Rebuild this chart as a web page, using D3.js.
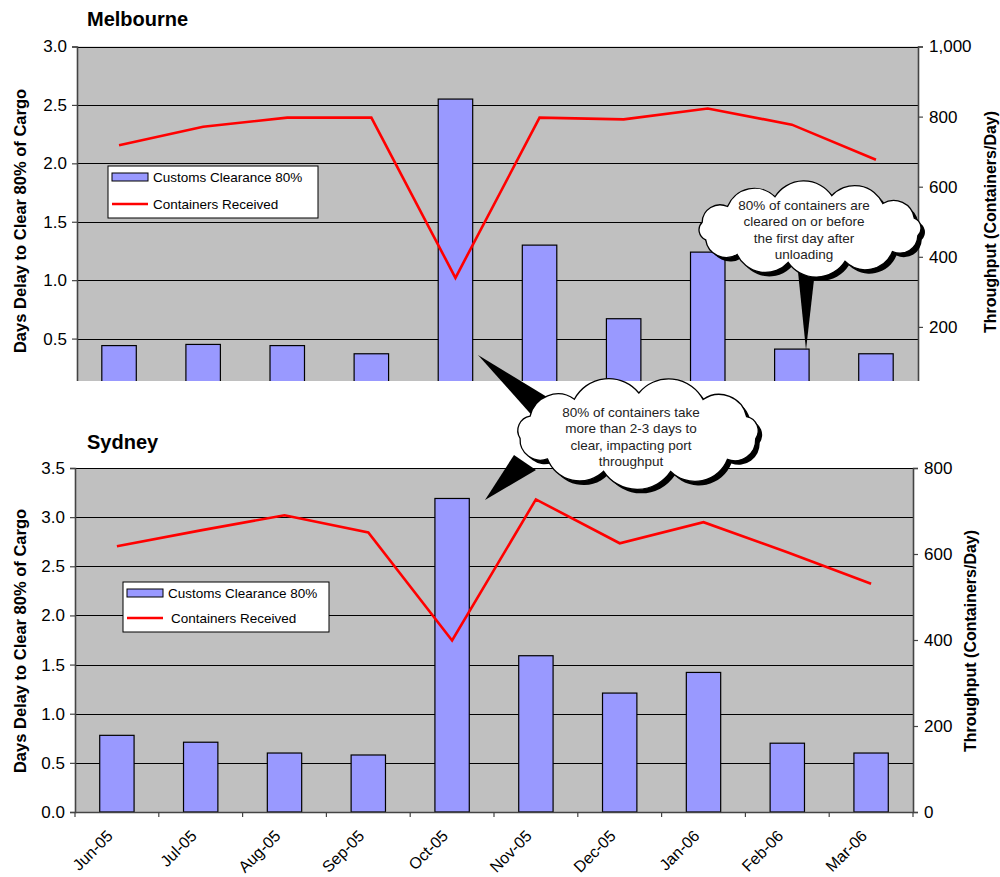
<!DOCTYPE html>
<html><head><meta charset="utf-8">
<script src="https://cdn.jsdelivr.net/npm/d3@7"></script>
<style>
body{margin:0;background:#fff;}
svg{display:block;font-family:"Liberation Sans",Arial,sans-serif;}
</style></head>
<body>
<svg id="chart" width="1000" height="877"></svg>
<script>
// ---------- DATA ----------
const months = ["Jun-05","Jul-05","Aug-05","Sep-05","Oct-05","Nov-05","Dec-05","Jan-06","Feb-06","Mar-06"];
const melbClearance = [0.44,0.45,0.44,0.37,2.55,1.30,0.67,1.24,0.41,0.37];
const melbContainers = [718,771,797,797,340,797,792,823,777,677];
const sydClearance = [0.78,0.71,0.60,0.58,3.19,1.59,1.21,1.42,0.70,0.60];
const sydContainers = [618,655,690,650,399,727,625,674,604,531];
const melbLeftTicks = [0.5,1.0,1.5,2.0,2.5,3.0];
const melbRightTicks = [200,400,600,800,1000];
const sydLeftTicks = [0,0.5,1.0,1.5,2.0,2.5,3.0,3.5];
const sydRightTicks = [0,200,400,600,800];
const seriesNames = ["Customs Clearance 80%","Containers Received"];
const leftTitle = "Days Delay to Clear 80% of Cargo";
const rightTitle = "Throughput (Containers/Day)";
const note1 = ["80% of containers are","cleared on or before","the first day after","unloading"];
const note2 = ["80% of containers take","more than 2-3 days to","clear, impacting port","throughput"];

const svg = d3.select("#chart");
const defs = svg.append("defs");
defs.append("clipPath").attr("id","topclip").append("rect").attr("x",0).attr("y",0).attr("width",1000).attr("height",381);

function drawPanel(o){
  const g = svg.append("g");
  const inner = o.clip ? g.append("g").attr("clip-path","url(#topclip)") : g.append("g");
  const x = d3.scaleBand().domain(months).range([o.left,o.right]).padding(0);
  const yL = d3.scaleLinear().domain(o.leftDomain).range([o.bottom,o.top]);
  const yR = d3.scaleLinear().domain(o.rightDomain).range([o.bottom,o.top]);
  inner.append("rect").attr("x",o.left).attr("y",o.top).attr("width",o.right-o.left).attr("height",o.bottom-o.top).attr("fill","#c0c0c0");
  inner.selectAll(".grid").data(o.leftTicks.filter(d=>d>0)).join("line")
    .attr("x1",o.left).attr("x2",o.right)
    .attr("y1",d=>Math.round(yL(d))+0.5).attr("y2",d=>Math.round(yL(d))+0.5)
    .attr("stroke","#000").attr("stroke-width",1);
  const bw = x.bandwidth()*0.41;
  inner.selectAll(".bar").data(o.bars).join("rect")
    .attr("x",(d,i)=>x(months[i])+x.bandwidth()/2-bw/2)
    .attr("y",d=>yL(d)).attr("width",bw).attr("height",d=>yL(0)-yL(d))
    .attr("fill","#9999ff").attr("stroke","#000").attr("stroke-width",1.2);
  const line = d3.line().x((d,i)=>x(months[i])+x.bandwidth()/2).y(d=>yR(d));
  inner.append("path").datum(o.line).attr("d",line).attr("fill","none").attr("stroke","#ff0000").attr("stroke-width",2.6).attr("stroke-linejoin","miter");
  const axL = d3.axisLeft(yL).tickValues(o.leftTicks).tickFormat(d3.format(".1f")).tickSize(5).tickPadding(5);
  const axR = d3.axisRight(yR).tickValues(o.rightTicks).tickFormat(d3.format(",")).tickSize(5).tickPadding(6);
  const gl = inner.append("g").attr("transform",`translate(${o.left},0)`).call(axL);
  const gr = inner.append("g").attr("transform",`translate(${o.right},0)`).call(axR);
  [gl,gr].forEach(a=>{
    a.select(".domain").attr("stroke","#444").attr("stroke-width",1.6);
    a.selectAll(".tick line").attr("stroke","#444").attr("stroke-width",1.2);
    a.selectAll("text").attr("font-size",17).attr("fill","#000").attr("font-family","Liberation Sans, Arial, sans-serif");
  });
  if(o.xAxis){
    const axB = d3.axisBottom(x).tickSize(0).tickFormat("");
    const gb = inner.append("g").attr("transform",`translate(0,${o.bottom})`).call(axB);
    gb.select(".domain").attr("stroke","#444").attr("stroke-width",1.6);
    inner.selectAll(".xt").data(d3.range(months.length+1)).join("line")
      .attr("x1",i=>o.left+i*x.bandwidth()).attr("x2",i=>o.left+i*x.bandwidth())
      .attr("y1",o.bottom).attr("y2",o.bottom+5).attr("stroke","#444").attr("stroke-width",1.2);
    inner.selectAll(".xl").data(months).join("text")
      .attr("transform",d=>`translate(${x(d)+x.bandwidth()/2-3},${o.bottom+25}) rotate(-45)`)
      .attr("text-anchor","end").attr("font-size",16).text(d=>d);
  }
  g.append("text").attr("x",o.titleX).attr("y",o.titleY).attr("font-weight","bold").attr("font-size",20).text(o.title);
  g.append("text").attr("transform",`translate(${o.ltX},${o.ltY}) rotate(-90)`).attr("text-anchor","middle")
    .attr("font-weight","bold").attr("font-size",16.5).text(leftTitle);
  g.append("text").attr("transform",`translate(${o.rtX},${o.rtY}) rotate(-90)`).attr("text-anchor","middle")
    .attr("font-weight","bold").attr("font-size",16).text(rightTitle);
  const lg = g.append("g").attr("transform",`translate(${o.legX},${o.legY})`);
  lg.append("rect").attr("x",0).attr("y",0).attr("width",o.legW).attr("height",o.legH).attr("fill","#fff").attr("stroke","#000").attr("stroke-width",1);
  lg.append("rect").attr("x",4).attr("y",7).attr("width",36).attr("height",8).attr("fill","#9999ff").attr("stroke","#000").attr("stroke-width",1);
  lg.append("line").attr("x1",4).attr("x2",40).attr("y1",o.legH-14).attr("y2",o.legH-14).attr("stroke","#ff0000").attr("stroke-width",2.6);
  lg.append("text").attr("x",45).attr("y",16).attr("font-size",13.5).text(seriesNames[0]);
  lg.append("text").attr("x",o.leg2X).attr("y",o.legH-9).attr("font-size",13.5).text(seriesNames[1]);
}

drawPanel({left:77,right:918,top:46.5,bottom:397,leftDomain:[0,3],rightDomain:[0,1000],
  leftTicks:melbLeftTicks,rightTicks:melbRightTicks,bars:melbClearance,line:melbContainers,clip:true,xAxis:false,
  title:"Melbourne",titleX:87,titleY:26,ltX:26,ltY:221,rtX:996,rtY:222,
  legX:108,legY:166,legW:210,legH:52,leg2X:45});
drawPanel({left:75,right:913,top:468,bottom:812,leftDomain:[0,3.5],rightDomain:[0,800],
  leftTicks:sydLeftTicks,rightTicks:sydRightTicks,bars:sydClearance,line:sydContainers,clip:false,xAxis:true,
  title:"Sydney",titleX:87,titleY:449,ltX:26,ltY:641,rtX:976,rtY:641,
  legX:123,legY:582,legW:206,legH:50,leg2X:48});

// ---------- callouts ----------
function cloudPath(cx,cy,rx,ry,n,off){
  const pts=d3.range(n).map(i=>{const t=off+i/n*2*Math.PI;return [cx+rx*Math.cos(t),cy+ry*Math.sin(t)];});
  let d=`M${pts[0][0]},${pts[0][1]}`;
  for(let i=0;i<n;i++){
    const a=pts[i],b=pts[(i+1)%n];
    const c=Math.hypot(b[0]-a[0],b[1]-a[1]);
    const r=c*0.6;
    d+=`A${r},${r} 0 0 1 ${b[0]},${b[1]}`;
  }
  return d+"Z";
}
function callout(cx,cy,rx,ry,n,off,tails,lines,tx,ty){
  const g=svg.append("g");
  tails.forEach(t=>g.append("polygon").attr("points",t.map(p=>p.join(",")).join(" ")).attr("fill","#000"));
  const p=cloudPath(cx,cy,rx,ry,n,off);
  g.append("path").attr("d",p).attr("transform","translate(4,4)").attr("fill","#000");
  g.append("path").attr("d",p).attr("fill","#fff").attr("stroke","#000").attr("stroke-width",1.3);
  g.selectAll(".ln").data(lines).join("text").attr("x",tx).attr("y",(d,i)=>ty+i*16.3)
    .attr("text-anchor","middle").attr("font-size",13.5).attr("fill","#222").text(d=>d);
}
callout(810,229,110,34,12,0.2,[[[797,262],[816,262],[806,350]]],note1,804,210);
callout(638,433,119,40,11,0.15,[[[478,355],[552,400],[536,420]],[[485,500],[514,455],[536,470]]],note2,631,417);
</script>
</body></html>
